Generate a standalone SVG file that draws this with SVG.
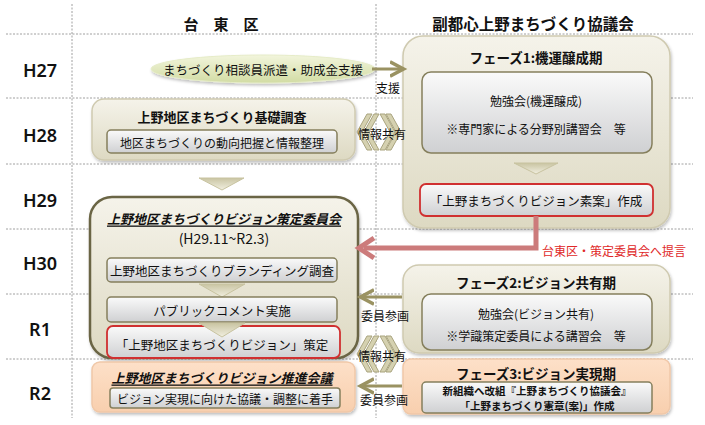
<svg xmlns="http://www.w3.org/2000/svg" width="705" height="425" viewBox="0 0 705 425">
<defs>
<style>
text{font-family:"Noto Sans CJK JP","Noto Sans",sans-serif;fill:#111;text-anchor:middle;dominant-baseline:central}
.hd{font-size:15px;font-weight:bold}
.yr{font-size:18px;font-weight:600;font-family:"Noto Sans","Noto Sans CJK JP",sans-serif}
.t{font-size:12.5px}
.s{font-size:12px}
.ti{font-size:13px;font-weight:bold;font-style:italic;text-decoration:underline}
.grid{stroke:#888;stroke-width:0.8;stroke-dasharray:2 1.5;fill:none}
.outer{fill:url(#gBeige);stroke:#cfcab0;stroke-width:1.5;filter:url(#sh)}
.peach{fill:url(#gPeach);stroke:#f0c8a8;stroke-width:1.5;filter:url(#sh)}
.inner{fill:url(#gGray);stroke:#857f5c;stroke-width:1.5}
.red{fill:url(#gGray);stroke:#d03030;stroke-width:1.8}
.chev{fill:url(#gChev);stroke:#c8c3a0;stroke-width:1}
.share{fill:#d5d1b0;stroke:#a9a47f;stroke-width:1}
.oarr{stroke:#9a9262;stroke-width:3;fill:none}
</style>
<linearGradient id="gBeige" x1="0" y1="0" x2="0" y2="1"><stop offset="0" stop-color="#f5f3ea"/><stop offset="1" stop-color="#ddd9c2"/></linearGradient>
<linearGradient id="gPeach" x1="0" y1="0" x2="0" y2="1"><stop offset="0" stop-color="#fde0c8"/><stop offset="1" stop-color="#f8cfae"/></linearGradient>
<linearGradient id="gGray" x1="0" y1="0" x2="0" y2="1"><stop offset="0" stop-color="#fafafa"/><stop offset="1" stop-color="#cfd0d2"/></linearGradient>
<linearGradient id="gGreen" x1="0" y1="0" x2="0" y2="1"><stop offset="0" stop-color="#f2f5dc"/><stop offset="1" stop-color="#d2dca4"/></linearGradient>
<linearGradient id="gChev" x1="0" y1="0" x2="0" y2="1"><stop offset="0" stop-color="#c9c4a2"/><stop offset="1" stop-color="#f1efe0"/></linearGradient>
<filter id="sh" x="-10%" y="-10%" width="120%" height="130%"><feDropShadow dx="1" dy="2" stdDeviation="1.5" flood-color="#000" flood-opacity="0.25"/></filter>
<marker id="mo" markerWidth="6" markerHeight="6" refX="4" refY="3" orient="auto" markerUnits="strokeWidth"><path d="M0,0.6 L4.5,3 L0,5.4" fill="none" stroke="#9a9262" stroke-width="1.2"/></marker>
</defs>

<g id="grid">
<line class="grid" x1="6" y1="34" x2="693" y2="34"/>
<line class="grid" x1="6" y1="98" x2="693" y2="98"/>
<line class="grid" x1="6" y1="164" x2="693" y2="164"/>
<line class="grid" x1="6" y1="229" x2="693" y2="229"/>
<line class="grid" x1="6" y1="294" x2="693" y2="294"/>
<line class="grid" x1="6" y1="359" x2="693" y2="359"/>
<line class="grid" x1="72" y1="4" x2="72" y2="418"/>
<line class="grid" x1="376" y1="4" x2="376" y2="418"/>
</g>

<g id="headers">
<text class="hd" x="221" y="23">台　東　区</text>
<text class="hd" style="font-size:15.5px" x="533" y="23">副都心上野まちづくり協議会</text>
</g>

<g id="years">
<text class="yr" x="40" y="70">H27</text>
<text class="yr" x="40" y="135">H28</text>
<text class="yr" x="40" y="200">H29</text>
<text class="yr" x="40" y="263">H30</text>
<text class="yr" x="40" y="329">R1</text>
<text class="yr" x="40" y="393">R2</text>
</g>

<g id="support">
<ellipse cx="263" cy="69" rx="112" ry="14" fill="url(#gGreen)" stroke="#e6ecc8" stroke-width="1" filter="url(#sh)"/>
<text class="t" x="263" y="69">まちづくり相談員派遣・助成金支援</text>
</g>

<g id="phase1">
<rect class="outer" x="403" y="36" width="267" height="192" rx="20"/>
<text class="hd" style="font-size:13.5px" x="536" y="57">フェーズ1:機運醸成期</text>
<rect class="inner" x="422" y="72" width="230" height="81" rx="9"/>
<text class="s" x="536" y="100">勉強会(機運醸成)</text>
<text class="s" x="536" y="128">※専門家による分野別講習会　等</text>
<path class="chev" d="M514,163 L558,163 L536,174 Z"/>
<rect class="red" x="420" y="184" width="233" height="32" rx="6"/>
<text class="t" x="536" y="200">「上野まちづくりビジョン素案」作成</text>
</g>

<g id="kiso">
<rect class="outer" x="92" y="99" width="263" height="61" rx="12"/>
<text class="t" style="font-weight:bold;font-size:13px" x="222" y="116">上野地区まちづくり基礎調査</text>
<rect class="inner" x="107" y="130" width="230" height="23" rx="4"/>
<text class="s" x="222" y="142">地区まちづくりの動向把握と情報整理</text>
</g>

<g id="chevron1">
<path class="chev" d="M199,178 L244,178 L222,190 Z"/>
</g>

<g id="committee">
<rect x="90" y="197" width="268" height="161" rx="22" fill="url(#gBeige)" stroke="#6b6544" stroke-width="2.5" filter="url(#sh)"/>
<text class="ti" x="224" y="218">上野地区まちづくりビジョン策定委員会</text>
<text class="t" style="font-size:14px" x="224" y="238">(H29.11~R2.3)</text>
<rect class="inner" x="107" y="258" width="230" height="24" rx="4"/>
<text class="t" x="222" y="270">上野地区まちづくりブランディング調査</text>
<path class="chev" d="M199,284 L245,284 L222,297 Z"/>
<rect class="inner" x="107" y="297" width="230" height="25" rx="4"/>
<text class="t" x="222" y="310">パブリックコメント実施</text>
<rect class="red" x="107" y="326" width="233" height="32" rx="6"/>
<path class="chev" d="M199,323 L245,323 L222,337 Z"/>
<text class="t" x="222" y="344">「上野地区まちづくりビジョン」策定</text>
</g>

<g id="suishin">
<rect class="peach" x="92" y="362" width="263" height="50" rx="8"/>
<text class="ti" x="222" y="377">上野地区まちづくりビジョン推進会議</text>
<rect class="inner" x="110" y="388" width="230" height="20" rx="3"/>
<text class="s" x="225" y="398">ビジョン実現に向けた協議・調整に着手</text>
</g>

<g id="phase2">
<rect class="outer" x="403" y="265" width="267" height="88" rx="16"/>
<text class="hd" style="font-size:13.5px" x="536" y="282">フェーズ2:ビジョン共有期</text>
<rect class="inner" x="422" y="294" width="230" height="56" rx="9"/>
<text class="s" x="536" y="313">勉強会(ビジョン共有)</text>
<text class="s" x="536" y="335">※学識策定委員による講習会　等</text>
</g>

<g id="phase3">
<rect class="peach" x="403" y="359" width="267" height="55" rx="8"/>
<text class="hd" style="font-size:13.5px" x="536" y="373">フェーズ3:ビジョン実現期</text>
<rect class="inner" x="422" y="382" width="230" height="31" rx="4"/>
<text style="font-size:10.5px;font-weight:bold" x="537" y="390">新組織へ改組『上野まちづくり協議会』</text>
<text style="font-size:10.5px;font-weight:bold" x="537" y="405">「上野まちづくり憲章(案)」作成</text>
</g>

<g id="connectors">
<line class="oarr" x1="372" y1="69" x2="402" y2="69" marker-end="url(#mo)"/>
<text class="s" x="388" y="87">支援</text>

<path d="M536,216 L536,248 L364,248" fill="none" stroke="#cc7b7b" stroke-width="5"/>
<path d="M374,238 L359,248 L374,258" fill="none" stroke="#cc7b7b" stroke-width="5" stroke-linejoin="miter"/>
<text class="s" style="fill:#e02828" x="614" y="250">台東区・策定委員会へ提言</text>

<line class="oarr" x1="402" y1="297" x2="362" y2="297" marker-end="url(#mo)"/>
<text class="s" x="385" y="315">委員参画</text>
<line class="oarr" x1="402" y1="386" x2="362" y2="386" marker-end="url(#mo)"/>
<text class="s" x="384" y="399">委員参画</text>

<g id="share1">
<path class="share" d="M367,114 L372,114 L362,132 L372,150 L367,150 L357,132 Z"/>
<path class="share" d="M374,114 L379,114 L369,132 L379,150 L374,150 L364,132 Z"/>
<path class="share" d="M380,114 L385,114 L395,132 L385,150 L380,150 L390,132 Z"/>
<path class="share" d="M386,114 L391,114 L401,132 L391,150 L386,150 L396,132 Z"/>
<text class="s" x="382" y="133">情報共有</text>
</g>
<g id="share2">
<path class="share" d="M367,336 L372,336 L362,354 L372,372 L367,372 L357,354 Z"/>
<path class="share" d="M374,336 L379,336 L369,354 L379,372 L374,372 L364,354 Z"/>
<path class="share" d="M380,336 L385,336 L395,354 L385,372 L380,372 L390,354 Z"/>
<path class="share" d="M386,336 L391,336 L401,354 L391,372 L386,372 L396,354 Z"/>
<text class="s" x="382" y="355">情報共有</text>
</g>
</g>
</svg>
